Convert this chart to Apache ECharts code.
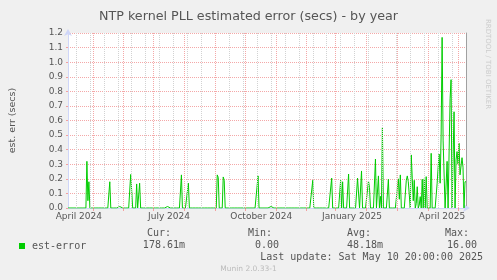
<!DOCTYPE html>
<html><head><meta charset="utf-8">
<script src="https://cdn.jsdelivr.net/npm/echarts@6/dist/echarts.min.js"></script>
<style>html,body{margin:0;padding:0;background:#f0f0f0}#c{width:497px;height:280px}</style>
</head><body><div id="c"></div>
<script>
const chartTitle = 'NTP kernel PLL estimated error (secs) - by year';
const yAxisName = 'est. err (secs)';
const seriesName = 'est-error';
const totalDays = 400;
// days counted from the left edge of the plot (one day per step)
const spikeDays = [19,20,21,42,52,63,64,69,72,100,114,121,150,151,156,157,191,204,212,246,265,274,276,282,291,292,295,302,303,309,312,314,316,322,325,332,333,334,340,341,342,343,345,346,347,348,350,351,353,354,356,358,360,365,371,372,373,374,375,376,377,378,381,384,385,388,390,391,392,393,394,395,396,397,399,400];
const spikeValues = [0.32,0.05,0.18,0.18,0.01,0.23,0.12,0.165,0.17,0.01,0.227,0.17,0.227,0.21,0.213,0.19,0.22,0.01,0.01,0.19,0.205,0.19,0.18,0.233,0.205,0.195,0.254,0.185,0.14,0.336,0.22,0.08,0.55,0.197,0.01,0.2,0.06,0.227,0.19,0.22,0.18,0.17,0.364,0.2,0.05,0.19,0.03,0.146,0.02,0.078,0.197,0.2,0.215,0.375,0.17,0.28,0.37,0.17,0.5,1.17,0.46,0.47,0.32,0.75,0.88,0.66,0.33,0.387,0.3,0.444,0.227,0.23,0.345,0.28,0.18,0.18];
const monthStartDays = [25,56,86,117,148,178,209,239,269,300,331,362,392];
const weekGridDays = [8,22,36,50,64,78,92,106,120,134,148,162,176,190,204,218,232,246,260,274,288,302,316,330,344,358,372,386];
const monthLabelDays = [10.9,101.5,194.2,285.4,375.9];
const monthLabels = ['April 2024','July 2024','October 2024','January 2025','April 2025'];
const statLabels = ['Cur:','Min:','Avg:','Max:'];
const statValues = ['178.61m','0.00','48.18m','16.00'];
const lastUpdate = 'Last update: Sat May 10 20:00:00 2025';
const versionText = 'Munin 2.0.33-1';
const watermark = 'RRDTOOL / TOBI OETIKER';

const valueByDay = {};
spikeDays.forEach((d, i) => { valueByDay[d] = spikeValues[i]; });
const lineData = [];
for (let d = 0; d <= totalDays; d++) lineData.push([d, valueByDay[d] !== undefined ? valueByDay[d] : 0]);

const gridLines = [];
weekGridDays.forEach(d => gridLines.push({xAxis: d, lineStyle: {color: '#d2d2d2', type: [1,1], width: 1}}));
monthStartDays.forEach(d => gridLines.push({xAxis: d, lineStyle: {color: '#f4a8a8', type: [1,1], width: 1}}));

const mono = '"DejaVu Sans Mono", monospace';
const sans = '"DejaVu Sans", sans-serif';
const statLabelX = [171,272,371,469];
const statValueX = [185,279,383,477];
const graphics = [];
statLabels.forEach((t, i) => graphics.push({type:'text', x: statLabelX[i], y: 233.5, style:{text:t, align:'right', verticalAlign:'middle', font:'10px ' + mono, fill:'#555'}}));
statValues.forEach((t, i) => graphics.push({type:'text', x: statValueX[i], y: 245.5, style:{text:t, align:'right', verticalAlign:'middle', font:'10px ' + mono, fill:'#555'}}));
graphics.push({type:'text', x: 483, y: 257.5, style:{text:lastUpdate, align:'right', verticalAlign:'middle', font:'10px ' + mono, fill:'#555'}});
graphics.push({type:'text', x: 248.5, y: 269, style:{text:versionText, align:'center', verticalAlign:'middle', font:'7.5px ' + sans, fill:'#bbbbbb'}});
graphics.push({type:'text', x: 488, y: 64, rotation: -Math.PI/2, style:{text:watermark, align:'center', verticalAlign:'middle', font:'7px ' + sans, fill:'#cccccc'}});

const chart = echarts.init(document.getElementById('c'), null, {renderer:'canvas'});
chart.setOption({
  backgroundColor: '#f0f0f0',
  animation: false,
  title: {text: chartTitle, left: 'center', top: 5, textStyle: {fontSize: 12.7, fontWeight: 'normal', color: '#555', fontFamily: sans}},
  legend: {left: 14, top: 236, itemWidth: 6, itemHeight: 6, icon: 'rect', itemGap: 0,
    textStyle: {fontFamily: mono, fontSize: 10, color: '#555', padding: [0,0,0,2]}, data: [seriesName]},
  grid: {left: 66, right: 31, top: 33, bottom: 72, show: true, backgroundColor: '#ffffff', borderWidth: 0},
  xAxis: {type: 'value', min: 0, max: totalDays,
    axisLine: {show: true, lineStyle: {color: '#cfd6f8'}, symbol: ['none','arrow'], symbolSize: [6,7], symbolOffset: [0,4]},
    axisTick: {show: true, customValues: monthStartDays, length: 3, lineStyle: {color: '#f4a0a0'}},
    axisLabel: {customValues: monthLabelDays, fontSize: 9, color: '#555', fontFamily: sans, margin: 4,
      formatter: v => { let best = 0; monthLabelDays.forEach((m, i) => { if (Math.abs(m - v) < Math.abs(monthLabelDays[best] - v)) best = i; }); return monthLabels[best]; }},
    splitLine: {show: false}},
  yAxis: [{type: 'value', min: 0, max: 1.2, interval: 0.1,
    name: yAxisName, nameLocation: 'middle', nameGap: 50, nameTextStyle: {fontSize: 9.5, color: '#555', fontFamily: sans},
    axisLine: {show: true, lineStyle: {color: '#cfd6f8'}, symbol: ['none','arrow'], symbolSize: [6,7], symbolOffset: [0,4]},
    axisTick: {show: true, length: 2, lineStyle: {color: '#f4a0a0'}},
    axisLabel: {fontSize: 9, color: '#555', fontFamily: sans, margin: 5, formatter: v => v.toFixed(1)},
    splitLine: {show: true, lineStyle: {color: '#f4a8a8', type: [1,1]}}},
    {type: 'value', min: 0, max: 1.2, position: 'right',
    axisLine: {show: true, lineStyle: {color: '#a0a0a0'}}, axisTick: {show: false}, axisLabel: {show: false}, splitLine: {show: false}}],
  series: [
    {name: 'grid', type: 'line', data: [], silent: true, z: 1,
      markLine: {silent: true, symbol: ['none','none'], label: {show: false}, animation: false, data: gridLines}},
    {name: seriesName, type: 'line', data: lineData, showSymbol: false, z: 3,
      itemStyle: {color: '#00cc00'}, lineStyle: {color: '#00cc00', width: 1}}
  ],
  graphic: graphics
});
</script></body></html>
